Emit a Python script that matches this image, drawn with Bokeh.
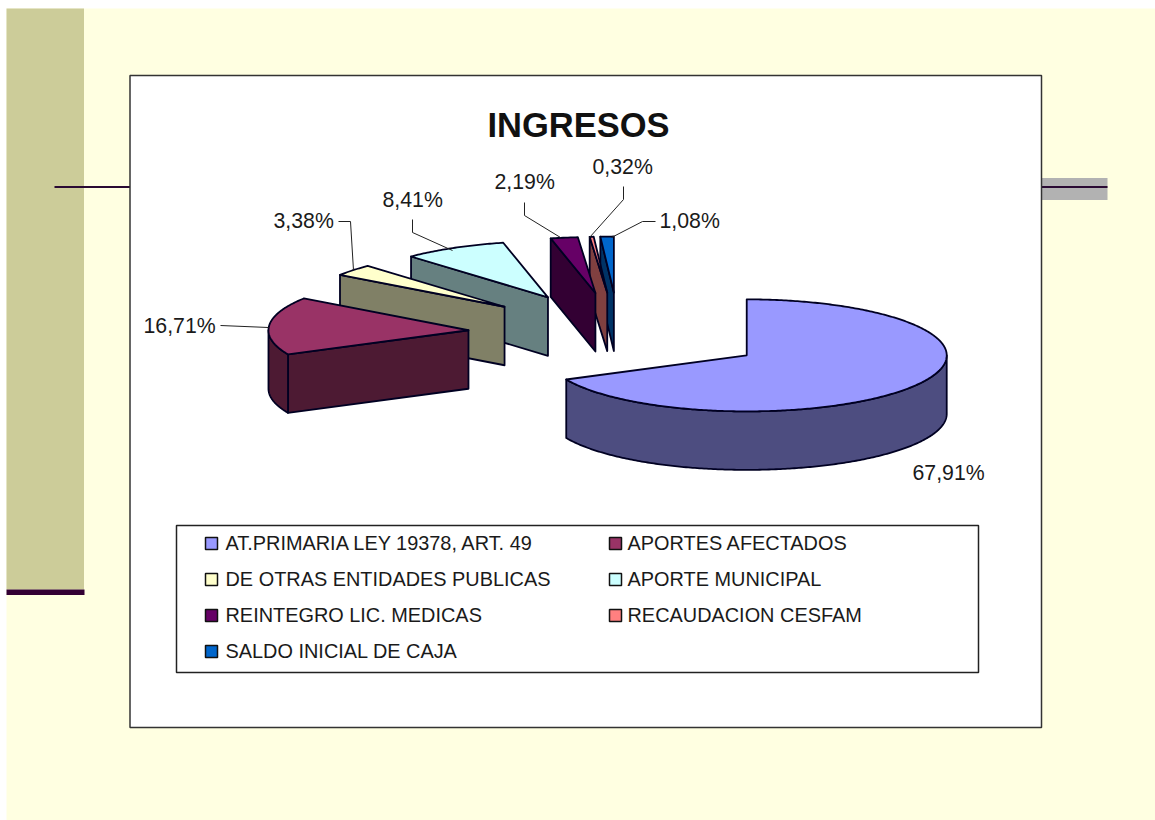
import math
from bokeh.core.properties import value
from bokeh.embed import file_html
from bokeh.models import Range1d
from bokeh.plotting import figure
from bokeh.resources import INLINE

# ---- data ----
categories = ["AT.PRIMARIA LEY 19378, ART. 49", "APORTES AFECTADOS",
              "DE OTRAS ENTIDADES PUBLICAS", "APORTE MUNICIPAL",
              "REINTEGRO LIC. MEDICAS", "RECAUDACION CESFAM",
              "SALDO INICIAL DE CAJA"]
shares = [67.91, 16.71, 3.38, 8.41, 2.19, 0.32, 1.08]
title = "INGRESOS"

# ---- style ----
top_colors = ["#9999FF", "#993366", "#FFFFCC", "#CCFFFF", "#660066", "#FF8080", "#0066CC"]
side_colors = ["#4D4D80", "#4D1A33", "#808066", "#668080", "#330033", "#804040", "#003366"]
BG = "#FFFFE1"
FONT = value("Liberation Sans")
TXT = "#1A1A1A"
EDGE = "#000022"

# ---- pie layout, in page pixels ----
CX, CY = 618.5, 333
RX, RY = 200, 56
DEPTH = 58.5
EXPLODE_X, EXPLODE_Y = 151, 41

p = figure(width=1155, height=820, x_range=Range1d(0, 1155), y_range=Range1d(820, 0),
           x_axis_type=None, y_axis_type=None, toolbar_location=None,
           output_backend="svg", min_border=0, outline_line_color=None,
           background_fill_color="white", border_fill_color="white")

# ---- slide decoration ----
p.quad(left=[6], right=[1155], top=[8], bottom=[820], fill_color=BG, line_color=None)
p.quad(left=[6], right=[83.5], top=[8], bottom=[589], fill_color="#CCCC99", line_color=None)
p.quad(left=[6], right=[84], top=[589], bottom=[594.5], fill_color="#330033", line_color=None)
p.quad(left=[1041], right=[1107], top=[177.5], bottom=[199.5], fill_color="#B2B2B2", line_color=None)
p.segment(x0=[54, 1041], y0=[186.5, 186.5], x1=[130, 1107], y1=[186.5, 186.5],
          line_color="#2A0A33", line_width=2)

# ---- chart frame ----
p.quad(left=[129.5], right=[1041], top=[75], bottom=[727], fill_color="white",
       line_color="#333333", line_width=1.5)

# ---- title ----
p.text(x=[578], y=[124], text=[title], text_font=FONT, text_font_style="bold",
       text_font_size="34.5px", text_align="center", text_baseline="middle", text_color="#111111")


def point(cx, cy, deg):
    t = math.radians(deg)
    return cx + RX * math.sin(t), cy - RY * math.cos(t)


def arc(cx, cy, a, b):
    n = max(2, int(abs(b - a) * 1.5))
    return [point(cx, cy, a + (b - a) * k / n) for k in range(n + 1)]


def add_poly(pts, color):
    p.patch([q[0] for q in pts], [q[1] for q in pts], fill_color=color,
            line_color=EDGE, line_width=1.8, line_join="round")


# ---- exploded 3-D pie: computed from the shares, painted rear to front ----
bounds = [0.0]
for s in shares:
    bounds.append(bounds[-1] + s / sum(shares) * 360.0)

for i in reversed(range(len(shares))):
    a, b = bounds[i], bounds[i + 1]
    mid = math.radians((a + b) / 2)
    cx = CX + EXPLODE_X * math.sin(mid)
    cy = CY - EXPLODE_Y * math.cos(mid)
    down = lambda pts: [(x, y + DEPTH) for x, y in pts]
    # cut faces turned towards the viewer
    if math.sin(math.radians(a)) < -1e-6:
        edge = [point(cx, cy, a), (cx, cy)]
        add_poly(edge + down(edge)[::-1], side_colors[i])
    if math.sin(math.radians(b)) > 1e-6:
        edge = [point(cx, cy, b), (cx, cy)]
        add_poly(edge + down(edge)[::-1], side_colors[i])
    # outer wall: only the front half of the rim
    lo, hi = max(a, 90.0), min(b, 270.0)
    if hi > lo:
        rim = arc(cx, cy, lo, hi)
        add_poly(rim + down(rim)[::-1], side_colors[i])
    # top face
    add_poly([(cx, cy)] + arc(cx, cy, a, b), top_colors[i])

# ---- data labels and leader lines ----
pct = [f"{s:.2f}".replace(".", ",") + "%" for s in shares]
label_x = [912, 143, 273, 382, 494, 592, 659]
label_y = [472, 325, 220, 199, 181, 166, 220]
p.text(x=label_x, y=label_y, text=pct, text_font=FONT, text_font_size="21.3px",
       text_align="left", text_baseline="middle", text_color=TXT)
leader_x = [[220, 268], [338, 350, 353], [412, 412, 452], [524, 524, 560], [623, 623, 589], [655, 642, 611]]
leader_y = [[325, 327], [221, 221, 270], [219, 232, 250], [202, 215, 237], [186, 199, 237], [221, 221, 237]]
p.multi_line(xs=leader_x, ys=leader_y, line_color="#222222", line_width=1)

# ---- legend ----
p.quad(left=[176], right=[978], top=[525], bottom=[672], fill_color="white",
       line_color="#222222", line_width=1.5)
col_x = [205, 609]
row_y = [543, 579, 615, 651]
for i, name in enumerate(categories):
    x0 = col_x[i % 2]
    y0 = row_y[i // 2]
    p.quad(left=[x0], right=[x0 + 12], top=[y0 - 6], bottom=[y0 + 6], fill_color=top_colors[i],
           line_color="#111111", line_width=1.5)
    p.text(x=[x0 + 20 - (i % 2) * 2], y=[y0 - 0.5], text=[name], text_font=FONT, text_font_size="19.9px",
           text_align="left", text_baseline="middle", text_color=TXT)

open("out.html", "w").write(file_html(p, INLINE))
